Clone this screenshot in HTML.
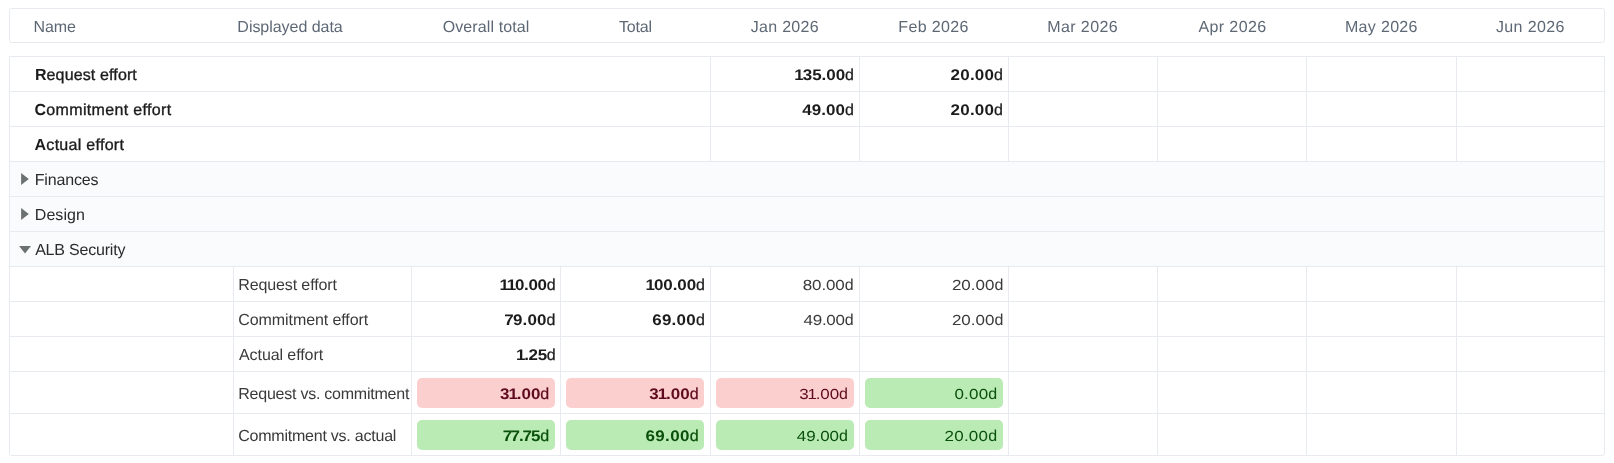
<!DOCTYPE html>
<html>
<head>
<meta charset="utf-8">
<title>Effort table</title>
<style>
  html, body { margin: 0; padding: 0; background: #ffffff; }
  body { width: 1614px; height: 463px; position: relative; overflow: hidden;
         font-family: "Liberation Sans", sans-serif; font-size: 16px; color: #222222; text-rendering: geometricPrecision; }
  #wrap { position: absolute; left: 0; top: 0; width: 1614px; height: 463px; will-change: transform; }
  .box { position: absolute; left: 9px; width: 1594px; border: 1px solid #e7eaee; background: #fff; }
  #hdr { top: 8px; height: 33px; border-radius: 2.5px; }
  #grid { top: 56px; height: 398px; border-radius: 0 0 3px 3px; }
  .hl { position: absolute; left: 10px; width: 1594px; height: 1px; background: #e7eaee; }
  .vl { position: absolute; width: 1px; background: #e7eaee; }
  .grp { position: absolute; left: 10px; width: 1594px; height: 34px; background: #fafbfd; }
  .t { position: absolute; white-space: nowrap; line-height: 20px; height: 20px; }
  .h { color: #5e6875; }
  .n { color: #2b2b2b; }
  .b { color: #1c1c1c; -webkit-text-stroke: 0.35px currentColor; }
  .b em { font-style: normal; font-weight: bold; -webkit-text-stroke: 0; }
  .nb { color: #1c1c1c; }
  .nb b { display: inline-block; font-weight: bold; font-size: 17px; transform: scaleY(0.9); line-height: 16px; transform-origin: 0 13.5px; }
  .l { color: #3a3a3a; }
  .t i { font-style: normal; font-weight: normal; -webkit-text-stroke: 0; }
  .nl b { display: inline-block; font-weight: normal; font-size: 17px; transform: scaleY(0.856); line-height: 16px; transform-origin: 0 13.5px; }
  .t u { text-decoration: none; margin: 0 -1px; }
  .t s { text-decoration: none; margin: 0 -0.85px; }
  .nb i { -webkit-text-stroke: 0.25px currentColor; }
  .pill { position: absolute; width: 138px; height: 30px; border-radius: 5px; }
  .red { background: #fccfcf; }
  .grn { background: #baebb5; }
  .rt { color: #5e0b1f; }
  .gt { color: #0a500a; }
</style>
</head>
<body>
<div id="wrap">
<div class="box" id="hdr"></div>
<div class="box" id="grid"></div>

<!-- group row backgrounds -->
<div class="grp" style="top:162px"></div>
<div class="grp" style="top:197px"></div>
<div class="grp" style="top:232px"></div>

<!-- horizontal lines -->
<div class="hl" style="top:91px"></div>
<div class="hl" style="top:126px"></div>
<div class="hl" style="top:161px"></div>
<div class="hl" style="top:196px"></div>
<div class="hl" style="top:231px"></div>
<div class="hl" style="top:266px"></div>
<div class="hl" style="top:301px"></div>
<div class="hl" style="top:336px"></div>
<div class="hl" style="top:371px"></div>
<div class="hl" style="top:413px"></div>

<!-- vertical lines -->
<div class="vl" style="left:710px;top:57px;height:104px"></div>
<div class="vl" style="left:859px;top:57px;height:104px"></div>
<div class="vl" style="left:1008px;top:57px;height:104px"></div>
<div class="vl" style="left:1157px;top:57px;height:104px"></div>
<div class="vl" style="left:1306px;top:57px;height:104px"></div>
<div class="vl" style="left:1456px;top:57px;height:104px"></div>
<div class="vl" style="left:233px;top:267px;height:188px"></div>
<div class="vl" style="left:411px;top:267px;height:188px"></div>
<div class="vl" style="left:560px;top:267px;height:188px"></div>
<div class="vl" style="left:710px;top:267px;height:188px"></div>
<div class="vl" style="left:859px;top:267px;height:188px"></div>
<div class="vl" style="left:1008px;top:267px;height:188px"></div>
<div class="vl" style="left:1157px;top:267px;height:188px"></div>
<div class="vl" style="left:1306px;top:267px;height:188px"></div>
<div class="vl" style="left:1456px;top:267px;height:188px"></div>

<!-- expand / collapse arrows -->
<svg style="position:absolute;left:21px;top:173px" width="9" height="13" viewBox="0 0 9 13"><path d="M0.1 0.1 L7.8 6 L0.1 11.9 Z" fill="#6b7071"/></svg>
<svg style="position:absolute;left:21px;top:208px" width="9" height="13" viewBox="0 0 9 13"><path d="M0.1 0.1 L7.8 6 L0.1 11.9 Z" fill="#6b7071"/></svg>
<svg style="position:absolute;left:19px;top:245px" width="13" height="10" viewBox="0 0 13 10"><path d="M0.1 0.9 L11.95 0.9 L6.02 8.6 Z" fill="#6b7071"/></svg>

<!-- pills -->
<div class="pill red" style="left:417px;top:378px"></div>
<div class="pill red" style="left:566px;top:378px"></div>
<div class="pill red" style="left:716px;top:378px"></div>
<div class="pill grn" style="left:865px;top:378px"></div>
<div class="pill grn" style="left:417px;top:420px"></div>
<div class="pill grn" style="left:566px;top:420px"></div>
<div class="pill grn" style="left:716px;top:420px"></div>
<div class="pill grn" style="left:865px;top:420px"></div>

<!-- text -->
<div class="t h" style="left:33.47px;top:18px;letter-spacing:-0.108px">Name</div>
<div class="t h" style="left:237.37px;top:18px;letter-spacing:-0.034px">Displayed data</div>
<div class="t h" style="left:442.70px;top:18px;letter-spacing:0.114px">Overall total</div>
<div class="t h" style="left:618.93px;top:18px;letter-spacing:-0.135px">Total</div>
<div class="t h" style="left:750.80px;top:18px;letter-spacing:0.285px">Jan 2026</div>
<div class="t h" style="left:898.37px;top:18px;letter-spacing:0.363px">Feb 2026</div>
<div class="t h" style="left:1047.37px;top:18px;letter-spacing:0.377px">Mar 2026</div>
<div class="t h" style="left:1198.44px;top:18px;letter-spacing:0.394px">Apr 2026</div>
<div class="t h" style="left:1344.97px;top:18px;letter-spacing:0.318px">May 2026</div>
<div class="t h" style="left:1496.00px;top:18px;letter-spacing:0.357px">Jun 2026</div>
<div class="t b" style="left:34.91px;top:66px;letter-spacing:0.130px"><em>R</em>equest effort</div>
<div class="t b" style="left:34.40px;top:101px;letter-spacing:0.343px"><em>C</em>ommitment effort</div>
<div class="t b" style="left:34.50px;top:136px;letter-spacing:0.283px"><em>A</em>ctual effort</div>
<div class="t nb" style="left:795.31px;top:66px;letter-spacing:-0.038px"><b><u>1</u>35.00</b><i>d</i></div>
<div class="t nb" style="left:950.60px;top:66px;letter-spacing:0.192px"><b>20.00</b><i>d</i></div>
<div class="t nb" style="left:802.20px;top:101px;letter-spacing:0.072px"><b>49.00</b><i>d</i></div>
<div class="t nb" style="left:950.60px;top:101px;letter-spacing:0.192px"><b>20.00</b><i>d</i></div>
<div class="t n" style="left:34.77px;top:171px;letter-spacing:-0.179px">Finances</div>
<div class="t n" style="left:34.77px;top:206px;letter-spacing:0.078px">Design</div>
<div class="t n" style="left:35.14px;top:241px;letter-spacing:-0.193px">ALB Security</div>
<div class="t l" style="left:238.37px;top:276px;letter-spacing:-0.129px">Request effort</div>
<div class="t l" style="left:238.30px;top:311px;letter-spacing:-0.087px">Commitment effort</div>
<div class="t l" style="left:239.04px;top:346px;letter-spacing:-0.087px">Actual effort</div>
<div class="t l" style="left:238.27px;top:385px;letter-spacing:-0.237px">Request vs. commitment</div>
<div class="t l" style="left:238.20px;top:427px;letter-spacing:-0.226px">Commitment vs. actual</div>
<div class="t nb" style="left:500.61px;top:276px;letter-spacing:-0.322px"><b><u>1</u><u>1</u>0.00</b><i>d</i></div>
<div class="t nb" style="left:646.61px;top:276px;letter-spacing:-0.105px"><b><u>1</u>00.00</b><i>d</i></div>
<div class="t nl l" style="left:802.81px;top:276px;letter-spacing:-0.129px"><b>80.00</b><i>d</i></div>
<div class="t nl l" style="left:951.90px;top:276px;letter-spacing:0.013px"><b>20.00</b><i>d</i></div>
<div class="t nb" style="left:505.20px;top:311px;letter-spacing:0.096px"><b><s>7</s>9.00</b><i>d</i></div>
<div class="t nb" style="left:652.23px;top:311px;letter-spacing:0.247px"><b>69.00</b><i>d</i></div>
<div class="t nl l" style="left:803.55px;top:311px;letter-spacing:-0.278px"><b>49.00</b><i>d</i></div>
<div class="t nl l" style="left:951.90px;top:311px;letter-spacing:0.013px"><b>20.00</b><i>d</i></div>
<div class="t nb" style="left:517.01px;top:346px;letter-spacing:-0.332px"><b><u>1</u>.25</b><i>d</i></div>
<div class="t nb rt" style="left:499.98px;top:385px;letter-spacing:-0.044px"><b>3<u>1</u>.00</b><i>d</i></div>
<div class="t nb rt" style="left:649.18px;top:385px"><b>3<u>1</u>.00</b><i>d</i></div>
<div class="t nl rt" style="left:799.14px;top:385px;letter-spacing:-0.136px"><b>3<u>1</u>.00</b><i>d</i></div>
<div class="t nl gt" style="left:954.49px;top:385px;letter-spacing:0.174px"><b>0.00</b><i>d</i></div>
<div class="t nb gt" style="left:503.70px;top:427px;letter-spacing:-0.187px"><b><s>7</s><s>7</s>.<s>7</s>5</b><i>d</i></div>
<div class="t nb gt" style="left:645.53px;top:427px;letter-spacing:0.327px"><b>69.00</b><i>d</i></div>
<div class="t nl gt" style="left:796.75px;top:427px;letter-spacing:-0.058px"><b>49.00</b><i>d</i></div>
<div class="t nl gt" style="left:944.60px;top:427px;letter-spacing:0.213px"><b>20.00</b><i>d</i></div>
</div>

</body>
</html>
